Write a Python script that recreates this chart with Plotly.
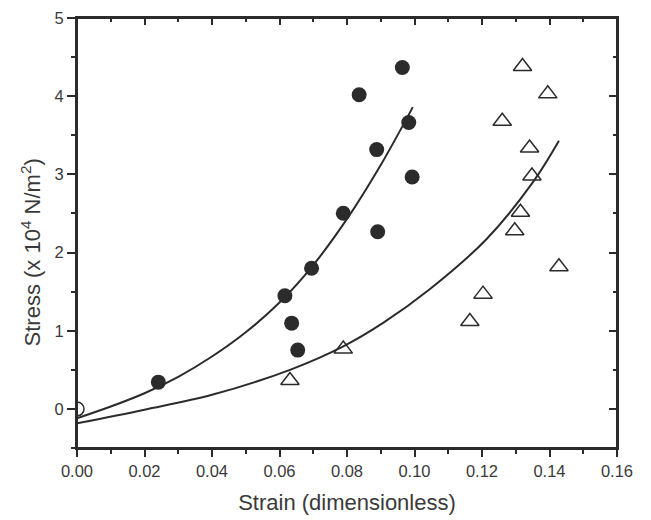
import plotly.graph_objects as go

# Filled circles (series 1)
circ_x = [0.0241, 0.0616, 0.0636, 0.0654, 0.0695, 0.0789, 0.0836, 0.0888, 0.0891, 0.0964, 0.0983, 0.0993]
circ_y = [0.342, 1.448, 1.097, 0.752, 1.80, 2.503, 4.018, 3.317, 2.266, 4.367, 3.663, 2.967]

# Open triangles (series 2)
tri_x = [0.0631, 0.0789, 0.1164, 0.1203, 0.1260, 0.1297, 0.1314, 0.1320, 0.1341, 0.1348, 0.1395, 0.1428]
tri_y = [0.363, 0.765, 1.119, 1.468, 3.68, 2.278, 2.515, 4.38, 3.338, 2.98, 4.03, 1.819]

# Point at origin (partly hidden by the axis)
origin_x = [0.0]
origin_y = [0.0]

# Fit curve 1
fit1_x = [0, 0.01, 0.02, 0.03, 0.04, 0.05, 0.06, 0.07, 0.08, 0.09, 0.0995]
fit1_y = [-0.12, 0.03, 0.20, 0.41, 0.67, 0.98, 1.36, 1.84, 2.43, 3.12, 3.86]

# Fit curve 2
fit2_x = [0, 0.02, 0.04, 0.0631, 0.0789, 0.0907, 0.1045, 0.1213, 0.1351, 0.1428]
fit2_y = [-0.185, -0.01, 0.18, 0.50, 0.80, 1.10, 1.53, 2.17, 2.90, 3.43]

x_ticks = [0, 0.02, 0.04, 0.06, 0.08, 0.10, 0.12, 0.14, 0.16]
y_ticks = [0, 1, 2, 3, 4, 5]

x_title = "Strain (dimensionless)"
y_title = "Stress (x 10<sup>4</sup> N/m<sup>2</sup>)"

INK = "#2b2b2b"
TXT = "#3a3a3a"

fig = go.Figure()
fig.add_trace(go.Scatter(x=fit1_x, y=fit1_y, mode="lines", line=dict(color=INK, width=2, shape="spline"),
                         showlegend=False, hoverinfo="skip"))
fig.add_trace(go.Scatter(x=fit2_x, y=fit2_y, mode="lines", line=dict(color=INK, width=2, shape="spline"),
                         showlegend=False, hoverinfo="skip"))
fig.add_trace(go.Scatter(x=origin_x, y=origin_y, mode="markers",
                         marker=dict(symbol="circle", size=14, color="white", line=dict(color=INK, width=1.5)),
                         showlegend=False))
fig.add_trace(go.Scatter(x=circ_x, y=circ_y, mode="markers",
                         marker=dict(symbol="circle", size=15, color=INK, line=dict(width=0)),
                         showlegend=False))
fig.add_trace(go.Scatter(x=tri_x, y=tri_y, mode="markers",
                         marker=dict(symbol="triangle-up-open", size=16, color=INK, line=dict(width=1.5)),
                         showlegend=False))
# invisible trace for mirror axes
fig.add_trace(go.Scatter(x=[0.08], y=[2], xaxis="x2", yaxis="y2", mode="markers",
                         marker=dict(opacity=0), showlegend=False, hoverinfo="skip"))

axis_common = dict(showline=True, linecolor=INK, linewidth=2, showgrid=False, zeroline=False, automargin=False)

fig.update_layout(
    width=643, height=512,
    margin=dict(l=69, r=34, t=10, b=72),
    paper_bgcolor="white", plot_bgcolor="white",
    font=dict(family="Liberation Sans, Arial, sans-serif", color=TXT, size=16),
    xaxis=dict(**axis_common, range=[0, 0.16], tickvals=x_ticks, tickformat=".2f",
               ticks="outside", ticklen=7, tickwidth=2, tickcolor=INK,
               minor=dict(dtick=0.01, tick0=0, ticks="outside", ticklen=4, tickwidth=2, tickcolor=INK),
               title=dict(text=x_title, font=dict(size=22, color=TXT), standoff=16),
               tickfont=dict(size=16.5, color=TXT), ticklabeloverflow="allow"),
    yaxis=dict(**axis_common, range=[-0.5, 5], tickvals=y_ticks,
               ticks="outside", ticklen=8, tickwidth=2, tickcolor=INK,
               minor=dict(dtick=0.5, tick0=0, ticks="outside", ticklen=4, tickwidth=2, tickcolor=INK),
               tickfont=dict(size=16.5, color=TXT), ticklabeloverflow="allow"),
    xaxis2=dict(**axis_common, range=[0, 0.16], overlaying="x", side="top", matches="x",
                tickvals=x_ticks, showticklabels=False,
                ticks="inside", ticklen=7, tickwidth=2, tickcolor=INK,
                minor=dict(dtick=0.01, tick0=0, ticks="inside", ticklen=4, tickwidth=2, tickcolor=INK)),
    yaxis2=dict(**axis_common, range=[-0.5, 5], overlaying="y", side="right", matches="y",
                tickvals=y_ticks, showticklabels=False,
                ticks="inside", ticklen=8, tickwidth=2, tickcolor=INK,
                minor=dict(dtick=0.5, tick0=0, ticks="inside", ticklen=4, tickwidth=2, tickcolor=INK)),
    shapes=[dict(type="rect", xref="paper", yref="paper", x0=0, x1=1, y0=0, y1=1,
                 line=dict(color=INK, width=2), fillcolor="rgba(0,0,0,0)", layer="above")],
    annotations=[dict(text=y_title, xref="paper", yref="paper", x=-0.085, y=0.455,
                      xanchor="center", yanchor="middle", textangle=-90, showarrow=False,
                      font=dict(size=22, color=TXT))],
)

fig.write_html("out.html")
